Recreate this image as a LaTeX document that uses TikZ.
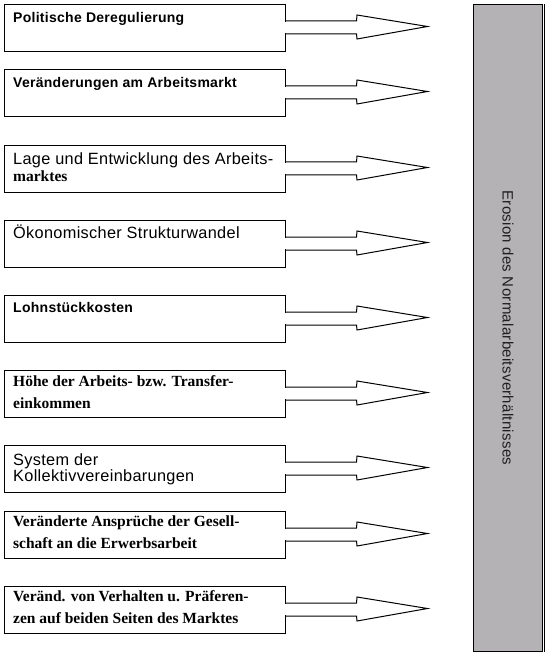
\documentclass[tikz,border=0pt]{standalone}
\usepackage{fontspec}
\setmainfont{Liberation Serif}
\setsansfont{Liberation Sans}
\newfontfamily\spacedsans[LetterSpace=2]{Liberation Sans}
\newfontfamily\plainserif{Liberation Serif}
\usetikzlibrary{calc}

% text styles of the factor boxes
\newcommand\fontBoldSans{\spacedsans\bfseries\fontsize{14}{16}\selectfont}
\newcommand\fontSans{\spacedsans\fontsize{16.3}{18}\selectfont}
\newcommand\fontBoldSerif{\plainserif\bfseries\fontsize{15.5}{18}\selectfont}
\newcommand\fontTarget{\spacedsans\fontsize{15}{17}\selectfont}

\definecolor{targetgray}{RGB}{180,178,181}

\tikzset{
  factor/.style={draw=black, line width=1pt, fill=white, inner sep=0pt,
    minimum width=281pt, minimum height=47.3pt, anchor=north west},
  line/.style={anchor=base west, inner sep=0pt},
  blockarrow/.style={draw=black, line width=1pt, line join=miter},
  target/.style={draw=black, line width=1pt, fill=targetgray, inner sep=0pt,
    minimum width=69pt, minimum height=647pt, anchor=north west}
}

\begin{document}
\begin{tikzpicture}[x=1pt,y=-1pt]
\useasboundingbox (0,0) rectangle (544,652);

% target column
\node[target] (ziel) at (473,4) {};
\draw[line width=1pt] ([xshift=1pt]ziel.north east) -- ([xshift=1pt]ziel.south east);
\node[font=\fontTarget, rotate=-90, inner sep=0pt, text=black!88] (zieltext) at (ziel.center)
  {Erosion des Normalarbeitsverhältnisses};

% factor boxes
\node[factor] (b1) at (4,4)   {};
\node[factor] (b2) at (4,69)  {};
\node[factor] (b3) at (4,145) {};
\node[factor] (b4) at (4,220) {};
\node[factor] (b5) at (4,295) {};
\node[factor] (b6) at (4,370) {};
\node[factor] (b7) at (4,445) {};
\node[factor] (b8) at (4,511) {};
\node[factor] (b9) at (4,586) {};

% labels
\node[line, font=\fontBoldSans] (t1) at ($(b1.north west)+(9,18.5)$) {Politische Deregulierung};
\node[line, font=\fontBoldSans] (t2) at ($(b2.north west)+(9,18.3)$) {Veränderungen am Arbeitsmarkt};
\node[line, font=\fontSans] (t3a) at ($(b3.north west)+(9,19.3)$) {Lage und Entwicklung des Arbeits-};
\node[line, font=\fontBoldSerif] (t3b) at ($(b3.north west)+(9,36.7)$) {marktes};
\node[line, font=\fontSans] (t4) at ($(b4.north west)+(9,18.3)$) {Ökonomischer Strukturwandel};
\node[line, font=\fontBoldSans] (t5) at ($(b5.north west)+(9,17.3)$) {Lohnstückkosten};
\node[line, font=\fontBoldSerif] (t6a) at ($(b6.north west)+(9,16)$) {Höhe der Arbeits- bzw. Transfer-};
\node[line, font=\fontBoldSerif] (t6b) at ($(b6.north west)+(9,38)$) {einkommen};
\node[line, font=\fontSans] (t7a) at ($(b7.north west)+(9,20)$) {System der};
\node[line, font=\fontSans] (t7b) at ($(b7.north west)+(9,36.7)$) {Kollektivvereinbarungen};
\node[line, font=\fontBoldSerif] (t8a) at ($(b8.north west)+(9,15.7)$) {Veränderte Ansprüche der Gesell-};
\node[line, font=\fontBoldSerif] (t8b) at ($(b8.north west)+(9,37.3)$) {schaft an die Erwerbsarbeit};
\node[line, font=\fontBoldSerif] (t9a) at ($(b9.north west)+(9,15.7)$) {Veränd. von Verhalten u. Präferen-};
\node[line, font=\fontBoldSerif] (t9b) at ($(b9.north west)+(9,37.3)$) {zen auf beiden Seiten des Marktes};

% block arrows leaving each box towards the target column
\foreach \i in {1,...,9}{
  \begin{scope}[shift={(b\i.north east)}]
    \fill[white] (-1,17.6) rectangle (1,29.4);
    \draw[blockarrow] (0,17) -- (70.5,17) -- (71,11) -- (141.5,22.5)
      -- (71,35) -- (70.5,30) -- (0,30);
  \end{scope}
}
\end{tikzpicture}
\end{document}
